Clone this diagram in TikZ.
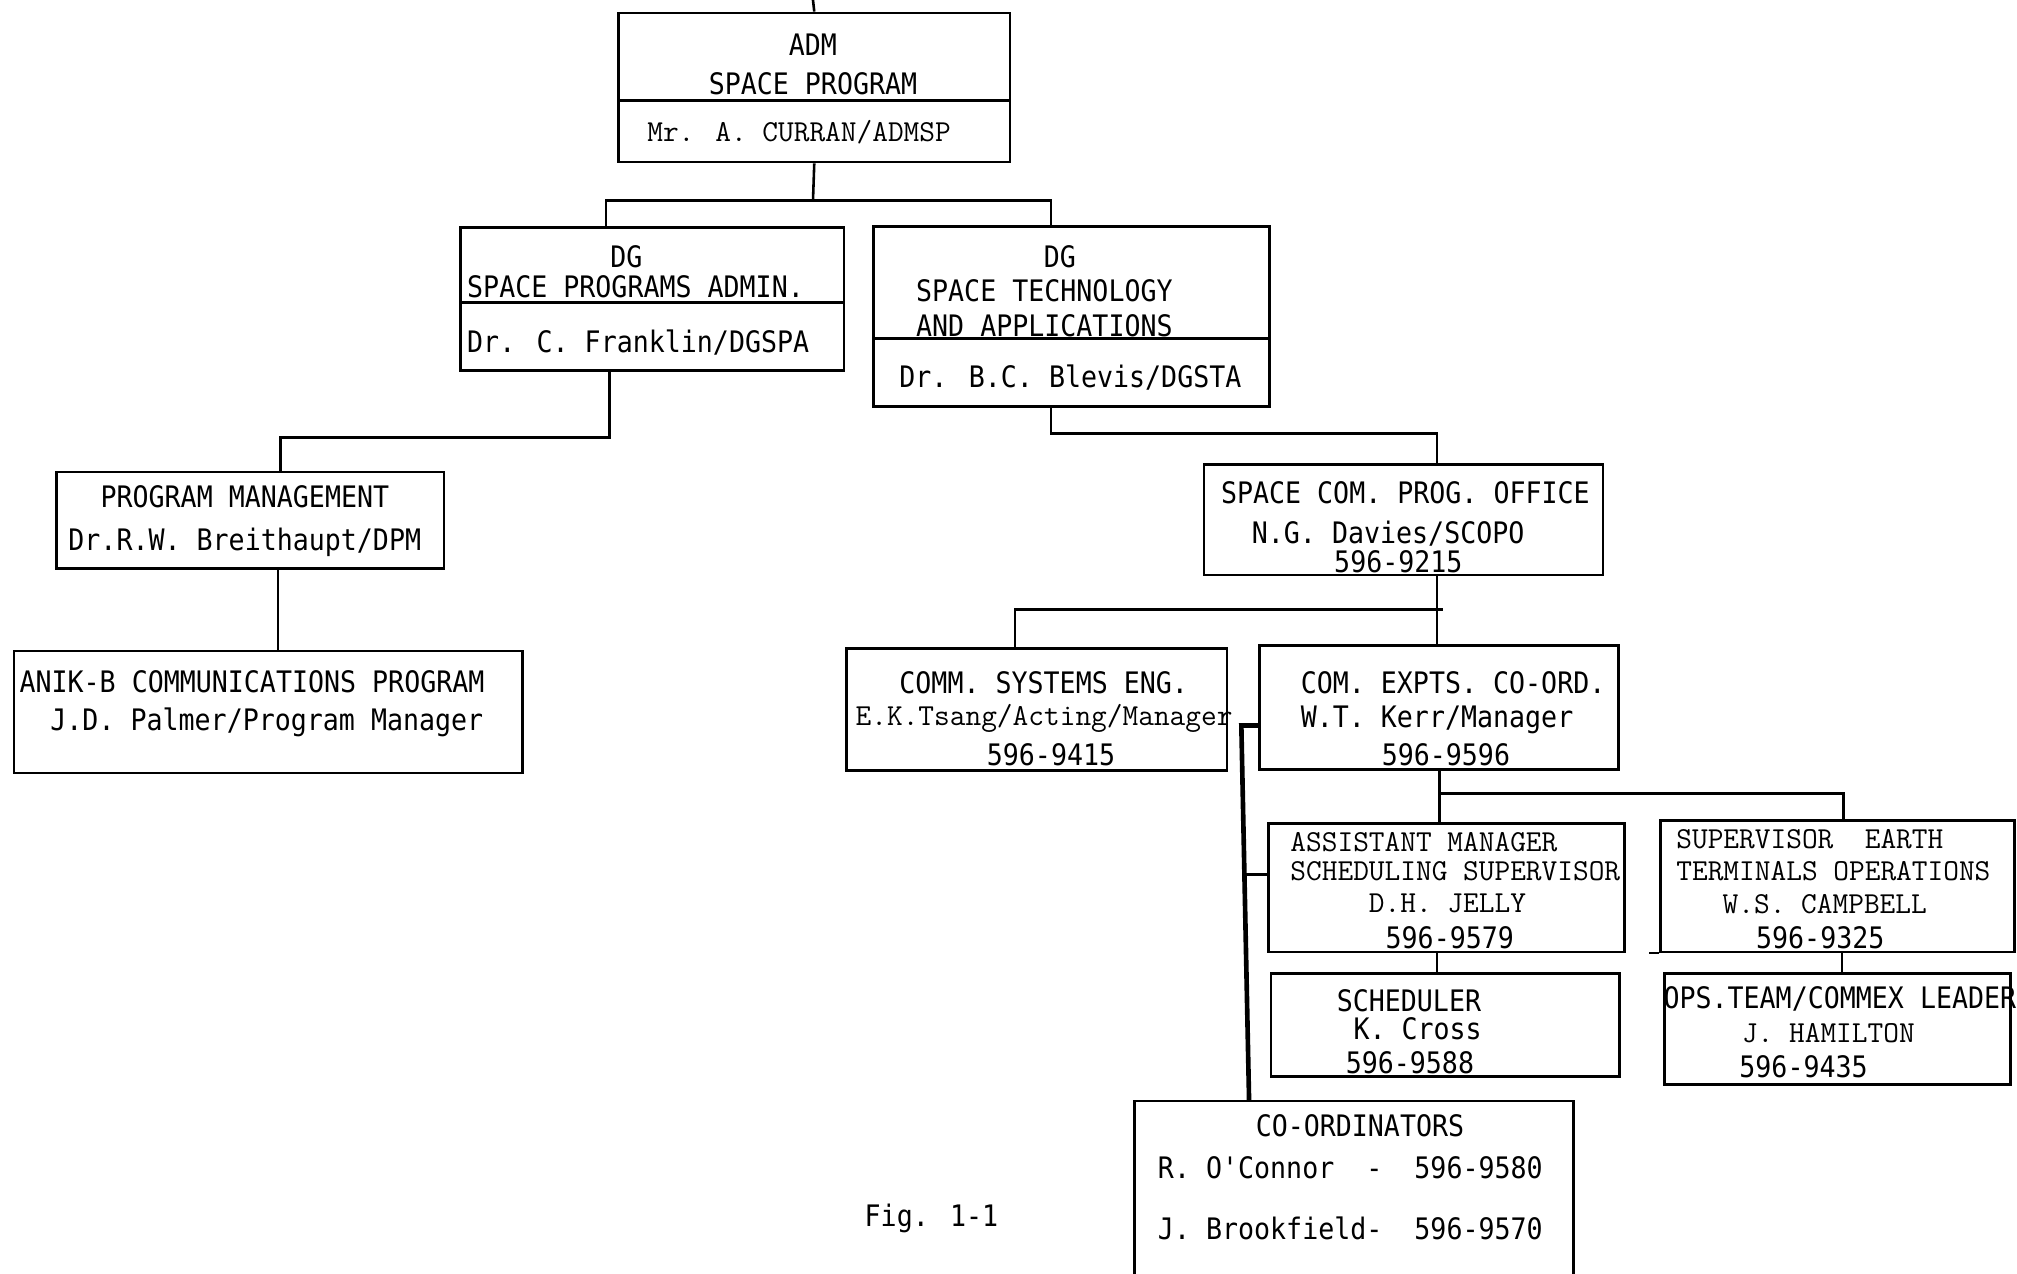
\documentclass[tikz,border=0pt]{standalone}
\usepackage{fontspec}
\newfontfamily\sansmono[FakeStretch=0.9]{DejaVu Sans Mono}
\tikzset{
  box/.style={draw, line width=2pt, rectangle, inner sep=0pt, anchor=north west},
  lbl/.style={inner sep=0pt, anchor=west, text height=16.5pt, text depth=0pt,
              font=\sansmono\fontsize{23}{26}\selectfont},
  slbl/.style={lbl, text height=14.5pt, font=\ttfamily\fontsize{23.7}{26}\selectfont},
  ctr/.style={anchor=center},
  conn/.style={line width=2pt},
  thickconn/.style={line width=3.6pt}
}
\begin{document}
\begin{tikzpicture}[x=1pt, y=-1pt]
\useasboundingbox (0,0) rectangle (1568,990);
\fill[white] (0,0) rectangle (1568,990);

% ---------- boxes ----------
\node[box, minimum width=304pt, minimum height=116pt] (adm) at (480,9) {};
\node[box, minimum width=298pt, minimum height=111pt] (dg1) at (357,176) {};
\node[box, minimum width=308pt, minimum height=140pt] (dg2) at (678,175) {};
\node[box, minimum width=301pt, minimum height=75pt] (pm) at (43,366) {};
\node[box, minimum width=395pt, minimum height=95pt] (anik) at (10,505) {};
\node[box, minimum width=310pt, minimum height=86pt] (scopo) at (935,360) {};
\node[box, minimum width=296pt, minimum height=95pt] (cse) at (657,503) {};
\node[box, minimum width=279pt, minimum height=96pt] (cec) at (978,501) {};
\node[box, minimum width=277pt, minimum height=100pt] (am) at (985,639) {};
\node[box, minimum width=275pt, minimum height=102pt] (seo) at (1290,637) {};
\node[box, minimum width=271pt, minimum height=80pt] (sched) at (987,756) {};
\node[box, minimum width=269pt, minimum height=86pt] (ops) at (1293,756) {};
\node[box, minimum width=341pt, minimum height=150pt] (coord) at (881,855) {};

% dividers
\draw[conn] (adm.west |- 0,78) -- (adm.east |- 0,78);
\draw[conn] (dg1.west |- 0,235) -- (dg1.east |- 0,235);
\draw[conn] (dg2.west |- 0,263) -- (dg2.east |- 0,263);
\draw[conn] (seo.south west) -- ++(-8,0);

% ---------- connectors ----------
\coordinate (topstub) at (632,0);
\draw[conn] (topstub) -- (adm.north);
\draw[conn] (adm.south) -- (632,156);
\draw[conn] (471,0 |- dg1.north) |- (817,156) -- (817,0 |- dg2.north);
\draw[conn] (474,0 |- dg1.south) |- (218,340) -- (218,0 |- pm.north);
\draw[conn] (216,0 |- pm.south) -- (216,0 |- anik.north);
\draw[conn] (817,0 |- dg2.south) |- (1117,337) -- (1117,0 |- scopo.north);
\draw[conn] (1117,0 |- scopo.south) -- (1117,0 |- cec.north);
\draw[conn] (789,0 |- cse.north) |- (1122,474);
\draw[conn] (1119,0 |- cec.south) -- (1119,0 |- am.north);
\draw[conn] (1119,617) -| (1433,0 |- seo.north);
\draw[conn] (1117,0 |- am.south) -- (1117,0 |- sched.north);
\draw[conn] (1432,0 |- seo.south) -- (1432,0 |- ops.north);
\draw[thickconn] (cec.west |- 0,564) -- (965,564) -- (971,0 |- coord.north);
\draw[conn] (968,680) -- (am.west |- 0,680);

% ---------- texts ----------
\node[lbl, ctr] (t1) at (632,35) {ADM};
\node[lbl, ctr] (t2) at (632,65) {SPACE PROGRAM};
\node[slbl] (t3) at (503,103) {Mr. A. CURRAN/ADMSP};

\node[lbl, ctr] (t4) at (487,200) {DG};
\node[lbl] (t5) at (363,223) {SPACE PROGRAMS ADMIN.};
\node[lbl] (t6) at (363,266) {Dr. C. Franklin/DGSPA};

\node[lbl, ctr] (t7) at (824,200) {DG};
\node[lbl] (t8) at (712,226) {SPACE TECHNOLOGY};
\node[lbl] (t9) at (712,253) {AND APPLICATIONS};
\node[lbl] (t10) at (699,293) {Dr. B.C. Blevis/DGSTA};

\node[lbl] (t11) at (78,386) {PROGRAM MANAGEMENT};
\node[lbl] (t12) at (53,420) {Dr.R.W. Breithaupt/DPM};

\node[lbl] (t13) at (15,530) {ANIK-B COMMUNICATIONS PROGRAM};
\node[lbl] (t14) at (39,560) {J.D. Palmer/Program Manager};

\node[lbl] (t15) at (949,383) {SPACE COM. PROG. OFFICE};
\node[lbl] (t16) at (973,414) {N.G. Davies/SCOPO};
\node[lbl] (t17) at (1037,437) {596-9215};

\node[lbl] (t18) at (699,531) {COMM. SYSTEMS ENG.};
\node[slbl] (t19) at (665,557) {E.K.Tsang/Acting/Manager};
\node[lbl] (t20) at (767,587) {596-9415};

\node[lbl] (t21) at (1011,531) {COM. EXPTS. CO-ORD.};
\node[lbl] (t22) at (1011,557) {W.T. Kerr/Manager};
\node[lbl] (t23) at (1074,587) {596-9596};

\node[slbl] (t24) at (1003,655) {ASSISTANT MANAGER};
\node[slbl] (t25) at (1003,677) {SCHEDULING SUPERVISOR};
\node[slbl] (t26) at (1064,702) {D.H. JELLY};
\node[lbl] (t27) at (1077,729) {596-9579};

\node[slbl] (t28) at (1303,652) {SUPERVISOR~~EARTH};
\node[slbl] (t29) at (1303,677) {TERMINALS OPERATIONS};
\node[slbl] (t30) at (1339,703) {W.S. CAMPBELL};
\node[lbl] (t31) at (1365,729) {596-9325};

\node[lbl] (t32) at (1039,778) {SCHEDULER};
\node[lbl] (t33) at (1052,800) {K. Cross};
\node[lbl] (t34) at (1046,826) {596-9588};

\node[lbl] (t35) at (1293,776) {OPS.TEAM/COMMEX LEADER};
\node[slbl] (t36) at (1354,803) {J. HAMILTON};
\node[lbl] (t37) at (1352,829) {596-9435};

\node[lbl] (t38) at (976,875) {CO-ORDINATORS};
\node[lbl] (t39) at (900,908) {R. O'Connor~~-~~596-9580};
\node[lbl] (t40) at (900,955) {J. Brookfield-~~596-9570};

\node[lbl] (fig) at (672,945) {Fig. 1-1};
\end{tikzpicture}
\end{document}
